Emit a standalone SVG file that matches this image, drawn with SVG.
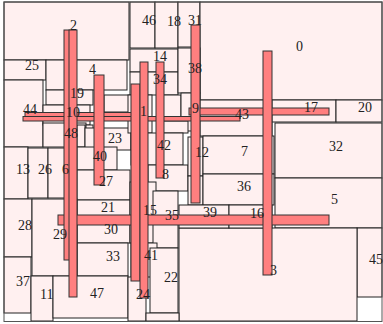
<svg xmlns="http://www.w3.org/2000/svg" width="383" height="324" viewBox="0 0 383 324">
<style>
.r{fill:#fff0f0;stroke:#222;stroke-width:1}
.b{fill:#ff7f7f;stroke:#333;stroke-width:1}
text{font-family:"Liberation Serif","Times New Roman",serif;font-size:14px;fill:#222}
</style>
<rect x="0" y="0" width="383" height="324" fill="#fff"/>
<g id="rects">
<rect class="r" x="4" y="2" width="125" height="58"/>
<rect class="r" x="130" y="2" width="25" height="46"/>
<rect class="r" x="155" y="2" width="23" height="46"/>
<rect class="r" x="178" y="2" width="22" height="45"/>
<rect class="r" x="200" y="2" width="182" height="98"/>
<rect class="r" x="4" y="60" width="42" height="20"/>
<rect class="r" x="46" y="60" width="81" height="30"/>
<rect class="r" x="4" y="80" width="39" height="67"/>
<rect class="r" x="46" y="90" width="47" height="15"/>
<rect class="r" x="43" y="105" width="47" height="20"/>
<rect class="r" x="43" y="123" width="43" height="24"/>
<rect class="r" x="77" y="125" width="8" height="22"/>
<rect class="r" x="86" y="125" width="7" height="10"/>
<rect class="r" x="104" y="95" width="27" height="17"/>
<rect class="r" x="85" y="128" width="46" height="22"/>
<rect class="r" x="130" y="49" width="48" height="23"/>
<rect class="r" x="130" y="72" width="48" height="23"/>
<rect class="r" x="178" y="48" width="22" height="45"/>
<rect class="r" x="128" y="95" width="24" height="38"/>
<rect class="r" x="163" y="95" width="18" height="22"/>
<rect class="r" x="181" y="93" width="19" height="38"/>
<rect class="r" x="163" y="121" width="25" height="12"/>
<rect class="r" x="131" y="133" width="52" height="32"/>
<rect class="r" x="148" y="165" width="40" height="26"/>
<rect class="r" x="188" y="137" width="15" height="39"/>
<rect class="r" x="188" y="176" width="15" height="29"/>
<rect class="r" x="200" y="100" width="72" height="36"/>
<rect class="r" x="203" y="136" width="71" height="38"/>
<rect class="r" x="203" y="174" width="71" height="31"/>
<rect class="r" x="272" y="100" width="64" height="22"/>
<rect class="r" x="336" y="100" width="46" height="22"/>
<rect class="r" x="275" y="123" width="107" height="55"/>
<rect class="r" x="275" y="178" width="107" height="50"/>
<rect class="r" x="357" y="228" width="25" height="69"/>
<rect class="r" x="179" y="228" width="178" height="93"/>
<rect class="r" x="179" y="205" width="50" height="23"/>
<rect class="r" x="229" y="205" width="43" height="23"/>
<rect class="r" x="4" y="147" width="24" height="52"/>
<rect class="r" x="28" y="148" width="20" height="50"/>
<rect class="r" x="48" y="148" width="29" height="50"/>
<rect class="r" x="77" y="147" width="40" height="23"/>
<rect class="r" x="77" y="170" width="53" height="30"/>
<rect class="r" x="77" y="200" width="53" height="22"/>
<rect class="r" x="77" y="222" width="53" height="21"/>
<rect class="r" x="77" y="243" width="51" height="33"/>
<rect class="r" x="4" y="199" width="28" height="58"/>
<rect class="r" x="32" y="199" width="45" height="77"/>
<rect class="r" x="4" y="257" width="27" height="56"/>
<rect class="r" x="31" y="276" width="22" height="45"/>
<rect class="r" x="53" y="276" width="75" height="42"/>
<rect class="r" x="130" y="182" width="26" height="61"/>
<rect class="r" x="153" y="191" width="25" height="57"/>
<rect class="r" x="131" y="243" width="26" height="34"/>
<rect class="r" x="150" y="248" width="28" height="65"/>
<rect class="r" x="128" y="277" width="18" height="44"/>
<rect class="r" x="146" y="313" width="33" height="8"/>
<rect x="4" y="2" width="378" height="319.5" fill="none" stroke="#555" stroke-width="1"/>
</g>
<g id="bars">
<rect class="b" x="25" y="112.5" width="107" height="4"/>
<rect class="b" x="23" y="116.5" width="217" height="4.5"/>
<rect class="b" x="189" y="108" width="140" height="7"/>
<rect class="b" x="58" y="215" width="271" height="10"/>
<rect class="b" x="64" y="30" width="6" height="230"/>
<rect class="b" x="69" y="30" width="8" height="267"/>
<rect class="b" x="94" y="75" width="10" height="110"/>
<rect class="b" x="131" y="84" width="9" height="197"/>
<rect class="b" x="140" y="62" width="8" height="236"/>
<rect class="b" x="156" y="62" width="8" height="116"/>
<rect class="b" x="191" y="25" width="9" height="178"/>
<rect class="b" x="263" y="51" width="9" height="224"/>
</g>
<g id="labels">
<text x="70" y="30">2</text>
<text x="142" y="25">46</text>
<text x="167" y="26">18</text>
<text x="188" y="25">31</text>
<text x="296" y="51">0</text>
<text x="25" y="70">25</text>
<text x="153" y="61">14</text>
<text x="89" y="74">4</text>
<text x="153" y="84">34</text>
<text x="188" y="73">38</text>
<text x="70" y="98">19</text>
<text x="140" y="116">1</text>
<text x="192" y="113">9</text>
<text x="23" y="114">44</text>
<text x="66" y="117">10</text>
<text x="235" y="119">43</text>
<text x="304" y="112">17</text>
<text x="358" y="112">20</text>
<text x="64" y="138">48</text>
<text x="108" y="143">23</text>
<text x="157" y="150">42</text>
<text x="195" y="157">12</text>
<text x="241" y="156">7</text>
<text x="329" y="151">32</text>
<text x="93" y="161">40</text>
<text x="16" y="174">13</text>
<text x="38" y="174">26</text>
<text x="62" y="174">6</text>
<text x="162" y="179">8</text>
<text x="99" y="186">27</text>
<text x="237" y="191">36</text>
<text x="331" y="204">5</text>
<text x="101" y="212">21</text>
<text x="143" y="215">15</text>
<text x="165" y="220">35</text>
<text x="203" y="217">39</text>
<text x="250" y="218">16</text>
<text x="18" y="230">28</text>
<text x="53" y="239">29</text>
<text x="104" y="234">30</text>
<text x="106" y="261">33</text>
<text x="144" y="260">41</text>
<text x="270" y="275">3</text>
<text x="369" y="264">45</text>
<text x="164" y="282">22</text>
<text x="16" y="286">37</text>
<text x="40" y="299">11</text>
<text x="90" y="298">47</text>
<text x="136" y="299">24</text>
</g>
</svg>
